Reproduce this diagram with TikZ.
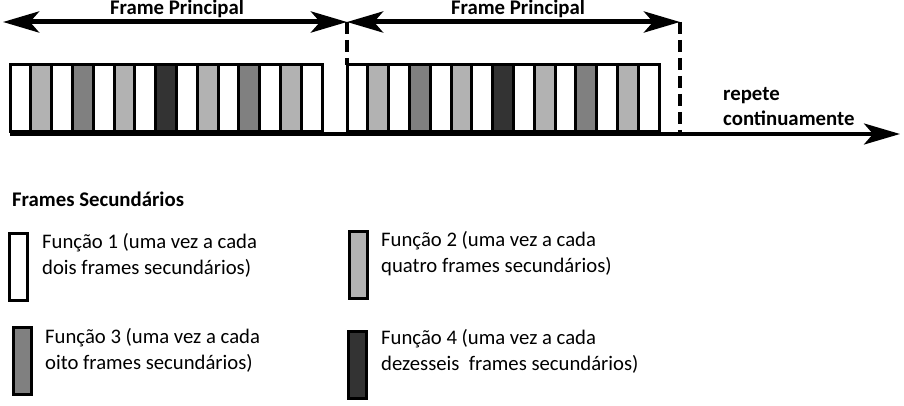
\documentclass[tikz,border=0pt]{standalone}
\usepackage{fontspec}
\setmainfont{Carlito}
\usetikzlibrary{arrows.meta}

\definecolor{lightcell}{gray}{0.70}
\definecolor{midcell}{gray}{0.50}
\definecolor{darkcell}{gray}{0.20}

\tikzset{
  cell/.style={draw=black,line width=3pt},
  spanarrow/.style={line width=5pt,{Stealth[length=36pt,width=21pt,inset=9pt]}-{Stealth[length=36pt,width=21pt,inset=9pt]}},
  axisarrow/.style={line width=4pt,-{Stealth[length=36pt,width=21pt,inset=9pt]}},
  dashline/.style={line width=3.5pt,dash pattern=on 12pt off 6pt},
  legendbox/.style={draw=black,line width=3pt,minimum width=18pt,minimum height=67pt,inner sep=0pt},
  titletext/.style={font=\fontsize{20.8}{25}\selectfont\bfseries,inner sep=0pt},
  legendtext/.style={font=\fontsize{20.7}{26}\selectfont,align=left,anchor=west,inner sep=0pt}
}

\begin{document}
\begin{tikzpicture}[x=1pt,y=-1pt]
\useasboundingbox (0,0) rectangle (904,406);
\coordinate (p0) at (3,22);
\coordinate (p1) at (347,22);
\coordinate (p2) at (680,22);
\coordinate (q1) at (347,65);
\coordinate (q2) at (680,134);
\coordinate (a0) at (10,134);
\coordinate (a1) at (900,134);
\draw[cell,fill=white] (10,65) rectangle (30.8,132);
\draw[cell,fill=lightcell] (30.8,65) rectangle (51.6,132);
\draw[cell,fill=white] (51.6,65) rectangle (72.4,132);
\draw[cell,fill=midcell] (72.4,65) rectangle (93.2,132);
\draw[cell,fill=white] (93.2,65) rectangle (114,132);
\draw[cell,fill=lightcell] (114,65) rectangle (134.8,132);
\draw[cell,fill=white] (134.8,65) rectangle (155.6,132);
\draw[cell,fill=darkcell] (155.6,65) rectangle (176.4,132);
\draw[cell,fill=white] (176.4,65) rectangle (197.2,132);
\draw[cell,fill=lightcell] (197.2,65) rectangle (218,132);
\draw[cell,fill=white] (218,65) rectangle (238.8,132);
\draw[cell,fill=midcell] (238.8,65) rectangle (259.6,132);
\draw[cell,fill=white] (259.6,65) rectangle (280.4,132);
\draw[cell,fill=lightcell] (280.4,65) rectangle (301.2,132);
\draw[cell,fill=white] (301.2,65) rectangle (322,132);
\draw[cell,fill=white] (347,65) rectangle (367.8,132);
\draw[cell,fill=lightcell] (367.8,65) rectangle (388.6,132);
\draw[cell,fill=white] (388.6,65) rectangle (409.4,132);
\draw[cell,fill=midcell] (409.4,65) rectangle (430.2,132);
\draw[cell,fill=white] (430.2,65) rectangle (451,132);
\draw[cell,fill=lightcell] (451,65) rectangle (471.8,132);
\draw[cell,fill=white] (471.8,65) rectangle (492.6,132);
\draw[cell,fill=darkcell] (492.6,65) rectangle (513.4,132);
\draw[cell,fill=white] (513.4,65) rectangle (534.2,132);
\draw[cell,fill=lightcell] (534.2,65) rectangle (555,132);
\draw[cell,fill=white] (555,65) rectangle (575.8,132);
\draw[cell,fill=midcell] (575.8,65) rectangle (596.6,132);
\draw[cell,fill=white] (596.6,65) rectangle (617.4,132);
\draw[cell,fill=lightcell] (617.4,65) rectangle (638.2,132);
\draw[cell,fill=white] (638.2,65) rectangle (659,132);
\draw[axisarrow] (a0) -- (a1);
\draw[dashline] (p1) -- (q1);
\draw[dashline] (p2) -- (q2);
\draw[spanarrow] (p0) -- (p1);
\draw[spanarrow] (p1) -- (p2);
\node[titletext] (t1) at (177,9) {Frame Principal};
\node[titletext] (t2) at (518,9) {Frame Principal};
\node[titletext,align=left,anchor=west] (rep) at (723,107) {repete\\continuamente};
\node[titletext,anchor=west] (sec) at (12,199) {Frames Secundários};
\node[legendbox,fill=white] (b1) at (18.5,267) {};
\node[legendbox,fill=lightcell] (b2) at (358,265) {};
\node[legendbox,fill=midcell] (b3) at (22.5,360.5) {};
\node[legendbox,fill=darkcell] (b4) at (357.5,364.5) {};
\node[legendtext] (f1) at (42,255) {Função 1 (uma vez a cada\\dois frames secundários)};
\node[legendtext] (f2) at (381,254) {Função 2 (uma vez a cada\\quatro frames secundários)};
\node[legendtext] (f3) at (45,350) {Função 3 (uma vez a cada\\oito frames secundários)};
\node[legendtext] (f4) at (381,351) {Função 4 (uma vez a cada\\dezesseis\ \ frames secundários)};
\end{tikzpicture}
\end{document}
